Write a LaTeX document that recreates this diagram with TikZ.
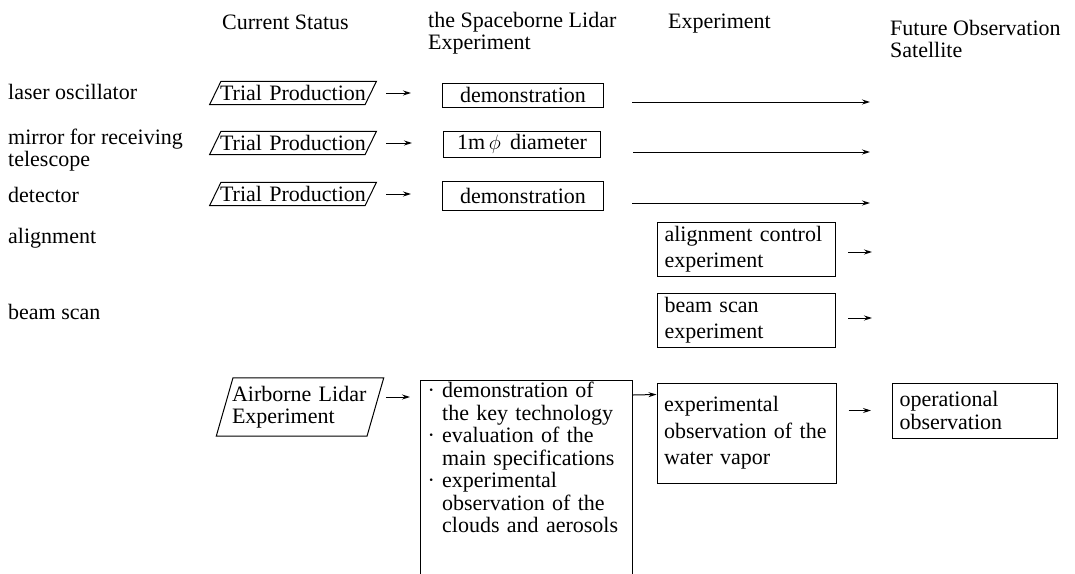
\documentclass[tikz,border=0pt]{standalone}
\usepackage{fontspec}
\setmainfont{Liberation Serif}
\usetikzlibrary{shapes.geometric,arrows.meta}

\begin{document}
\begin{tikzpicture}[x=1pt,y=-1pt,
    font=\fontsize{22}{22.5}\selectfont,
    arr/.style={-{Stealth[length=8pt,width=5pt]}, line width=1pt},
    para/.style={draw, line width=1pt, trapezium, trapezium left angle=64, trapezium right angle=116, align=left, inner xsep=-1pt, inner ysep=4pt},
    box/.style={draw, line width=1pt, rectangle, align=left, inner xsep=7pt, inner ysep=2pt},
    lbl/.style={anchor=west, align=left, inner sep=0pt}]
    \useasboundingbox (0,0) rectangle (1075,573);
    \clip (0,0) rectangle (1075,573);
    \node[lbl] (hstat) at (222,22) {Current Status};
    \node[lbl] (hspace) at (428,33) {the Spaceborne Lidar\\Experiment};
    \node[lbl] (hexp) at (668,24) {Experiment};
    \node[lbl] (hfut) at (890,39) {Future Observation\\Satellite};
    \node[lbl] (laser) at (8,92) {laser oscillator};
    \node[lbl] (mirror) at (8,150) {mirror for receiving\\telescope};
    \node[lbl] (det) at (8,195) {detector};
    \node[lbl] (alig) at (8,238) {alignment};
    \node[lbl] (beam) at (8,312) {beam scan};
    \node[para, text width=146] (tp1) at (293,93) {Trial Production};
    \node[para, text width=146] (tp2) at (293,143) {Trial Production};
    \node[para, text width=146] (tp3) at (293,194) {Trial Production};
    \node[box, align=center, minimum width=161, minimum height=24] (dem1) at (523,95) {demonstration};
    \node[box, align=center, minimum width=157, minimum height=26] (dia) at (522,144) {1m\,$\phi$\, diameter};
    \node[box, align=center, minimum width=161, minimum height=29] (dem2) at (523,195.5) {demonstration};
    \node[box, text width=164, minimum height=54] (alctl) at (746.5,249) {alignment control\\[3pt]experiment};
    \node[box, text width=164, minimum height=54] (bsexp) at (746.5,320) {beam scan\\[3pt]experiment};
    \node[para, trapezium left angle=74, trapezium right angle=106, inner ysep=8pt, text width=136] (air) at (300,407) {Airborne Lidar\\Experiment};
    \node[box, anchor=north west, text width=198] (keytech) at (420,380) {· demonstration of\\\phantom{· }the key technology\\· evaluation of the\\\phantom{· }main specifications\\· experimental\\\phantom{· }observation of the\\\phantom{· }clouds and aerosols\\\mbox{}\\\mbox{}};
    \node[box, text width=165, minimum height=100] (wvap) at (746.5,433) {experimental\\[4pt]observation of the\\[4pt]water vapor};
    \node[box, text width=151, minimum height=55] (opobs) at (975,410.5) {operational\\observation};
    \coordinate (f1) at (870,102);
    \coordinate (f2) at (870,152);
    \coordinate (f3) at (870,203);
    \coordinate (fa) at (872,252);
    \coordinate (fb) at (872,318);
    \draw[arr, shorten <=15pt, shorten >=31pt] (tp1.east) -- (tp1.east -| dem1.west);
    \draw[arr, shorten <=15pt, shorten >=31pt] (tp2.east) -- (tp2.east -| dia.west);
    \draw[arr, shorten <=15pt, shorten >=31pt] (tp3.east) -- (tp3.east -| dem2.west);
    \draw[arr, shorten <=28pt] (dem1.east |- f1) -- (f1);
    \draw[arr, shorten <=32pt] (dia.east |- f2) -- (f2);
    \draw[arr, shorten <=28pt] (dem2.east |- f3) -- (f3);
    \draw[arr, shorten <=12pt] (alctl.east |- fa) -- (fa);
    \draw[arr, shorten <=12pt] (bsexp.east |- fb) -- (fb);
    \draw[arr, shorten <=10pt, shorten >=10pt] ([yshift=10pt]air.east) -- ([yshift=10pt]air.east -| keytech.west);
    \draw[arr] ([yshift=-15pt]keytech.north east) -- ([yshift=-12pt]wvap.north west);
    \draw[arr, shorten <=12pt, shorten >=21pt] (wvap.east |- opobs) -- (opobs.west);
\end{tikzpicture}
\end{document}
